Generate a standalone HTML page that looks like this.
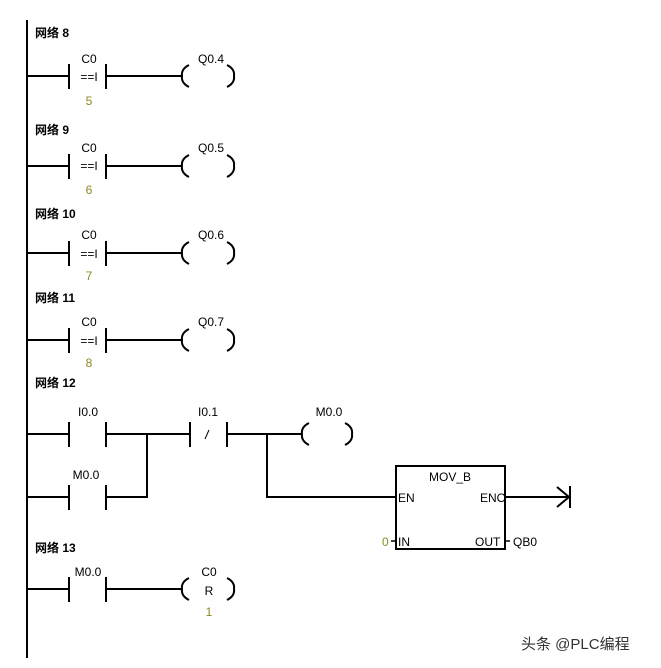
<!DOCTYPE html>
<html><head><meta charset="utf-8"><style>
html,body{margin:0;padding:0;background:#fff;}
svg{display:block;}
text{font-family:"Liberation Sans","Noto Sans CJK SC",sans-serif;font-size:12px;fill:#000;}
.b{font-weight:bold;font-size:12px;}
.o{fill:#8a8a20;}
</style></head><body>
<svg width="661" height="668" viewBox="0 0 661 668" xmlns="http://www.w3.org/2000/svg">
<g stroke="#000" stroke-width="2" fill="none">
<line x1="27" y1="20" x2="27" y2="658"/>
<g id="n8">
<line x1="27" y1="76" x2="69" y2="76"/><line x1="69" y1="64" x2="69" y2="89"/><line x1="106" y1="64" x2="106" y2="89"/><line x1="106" y1="76" x2="182" y2="76"/>
<path d="M189,65 Q181,69 182,76 Q181,83 189,87"/><path d="M227,65 Q235,69 234,76 Q235,83 227,87"/>
</g>
<use href="#n8" y="90"/><use href="#n8" y="177"/><use href="#n8" y="264"/>
<line x1="27" y1="434" x2="69" y2="434"/><line x1="69" y1="422" x2="69" y2="447"/><line x1="106" y1="422" x2="106" y2="447"/>
<line x1="106" y1="434" x2="190" y2="434"/>
<line x1="27" y1="497" x2="69" y2="497"/><line x1="69" y1="485" x2="69" y2="510"/><line x1="106" y1="485" x2="106" y2="510"/>
<line x1="106" y1="497" x2="147" y2="497"/><line x1="147" y1="434" x2="147" y2="498"/>
<line x1="190" y1="422" x2="190" y2="447"/><line x1="227" y1="422" x2="227" y2="447"/>
<line x1="227" y1="434" x2="302" y2="434"/>
<path d="M309,423 Q301,427 302,434 Q301,441 309,445"/><path d="M345,423 Q353,427 352,434 Q353,441 345,445"/>
<line x1="267" y1="434" x2="267" y2="498"/><line x1="267" y1="497" x2="396" y2="497"/>
<rect x="396" y="466" width="109" height="83"/>
<line x1="505" y1="497" x2="570" y2="497"/><line x1="570" y1="486" x2="570" y2="508"/>
<path d="M557,487 L569,497 L557,507"/>
<line x1="391" y1="541" x2="396" y2="541" stroke-width="1.5"/><line x1="505" y1="541" x2="510" y2="541" stroke-width="1.5"/>
<line x1="27" y1="589" x2="69" y2="589"/><line x1="69" y1="577" x2="69" y2="602"/><line x1="106" y1="577" x2="106" y2="602"/><line x1="106" y1="589" x2="182" y2="589"/>
<path d="M189,578 Q181,582 182,589 Q181,596 189,600"/><path d="M227,578 Q235,582 234,589 Q235,596 227,600"/>
</g>
<path d="M205,439 L209,430" stroke="#000" stroke-width="1"/>
<text class="b" x="35" y="37">网络 8</text>
<text class="b" x="35" y="134">网络 9</text>
<text class="b" x="35" y="218">网络 10</text>
<text class="b" x="35" y="302">网络 11</text>
<text class="b" x="35" y="387">网络 12</text>
<text class="b" x="35" y="552">网络 13</text>
<g text-anchor="middle">
<text x="89" y="63">C0</text><text x="89" y="81">==I</text><text class="o" x="89" y="105">5</text><text x="211" y="63">Q0.4</text>
<text x="89" y="152">C0</text><text x="89" y="170">==I</text><text class="o" x="89" y="194">6</text><text x="211" y="152">Q0.5</text>
<text x="89" y="239">C0</text><text x="89" y="258">==I</text><text class="o" x="89" y="280">7</text><text x="211" y="239">Q0.6</text>
<text x="89" y="326">C0</text><text x="89" y="345">==I</text><text class="o" x="89" y="367">8</text><text x="211" y="326">Q0.7</text>
<text x="88" y="416">I0.0</text><text x="208" y="416">I0.1</text><text x="329" y="416">M0.0</text>
<text x="86" y="479">M0.0</text>
<text x="450" y="481">MOV_B</text>
<text x="88" y="576">M0.0</text><text x="209" y="576">C0</text><text x="209" y="595">R</text><text class="o" x="209" y="616">1</text>
</g>
<text x="398" y="502">EN</text><text x="480" y="502">ENO</text>
<text x="398" y="546">IN</text><text x="475" y="546">OUT</text><text x="513" y="546">QB0</text>
<text class="o" x="382" y="546">0</text>
<text x="521" y="649" style="font-size:15px;fill:#333">头条 @PLC编程</text>
</svg>
</body></html>
